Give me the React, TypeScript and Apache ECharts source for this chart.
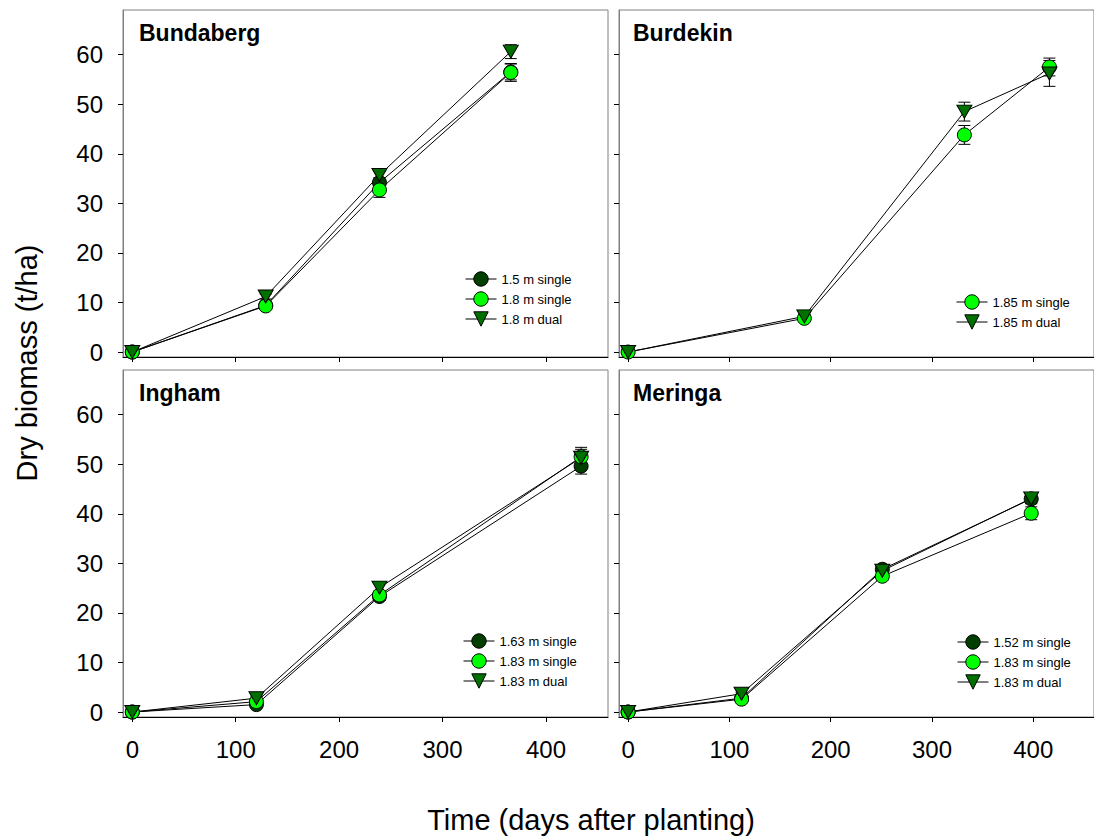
import React, { useEffect, useRef } from "react";
import * as echarts from "echarts";

// ---- Data ----
const xTicks = [0, 100, 200, 300, 400];
const yTicks = [0, 10, 20, 30, 40, 50, 60];

const bundDays = [0, 129, 239, 366];
const bund15Single = [0, 9.4, 34.2, 56.5];
const bund15SingleErr = [0, 0.5, 1.0, 1.6];
const bund18Single = [0, 9.3, 32.7, 56.4];
const bund18SingleErr = [0, 0.5, 1.5, 1.8];
const bund18Dual = [0, 11.2, 35.7, 60.6];
const bund18DualErr = [0, 0.5, 1.0, 1.4];

const burdDays = [0, 174, 332, 416];
const burd185Single = [0, 6.8, 43.8, 57.5];
const burd185SingleErr = [0, 0.4, 1.9, 1.8];
const burd185Dual = [0, 7.2, 48.5, 56.2];
const burd185DualErr = [0, 0.4, 1.9, 2.6];

const ingDays = [0, 120, 239, 434];
const ing163Single = [0, 1.5, 23.3, 49.6];
const ing163SingleErr = [0, 0.4, 0.8, 1.6];
const ing183Single = [0, 2.1, 23.6, 51.5];
const ing183SingleErr = [0, 0.4, 0.8, 1.5];
const ing183Dual = [0, 2.8, 25.1, 51.3];
const ing183DualErr = [0, 0.4, 0.8, 2.1];

const merDays = [0, 112, 251, 398];
const mer152Single = [0, 2.8, 28.8, 43.0];
const mer152SingleErr = [0, 0.3, 0.7, 1.0];
const mer183Single = [0, 2.6, 27.4, 40.1];
const mer183SingleErr = [0, 0.3, 0.8, 1.3];
const mer183Dual = [0, 3.7, 28.5, 43.1];
const mer183DualErr = [0, 0.3, 0.7, 1.0];

const panelTitles = ["Bundaberg", "Burdekin", "Ingham", "Meringa"];

const DARK = "#003f00";
const LIGHT = "#00ff00";
const MID = "#007000";
const FONT = "Liberation Sans, Arial, sans-serif";

type S = { name: string; days: number[]; vals: number[]; errs: number[]; kind: "dark" | "light" | "dual" };

const panels: S[][] = [
  [
    { name: "1.5 m single", days: bundDays, vals: bund15Single, errs: bund15SingleErr, kind: "dark" },
    { name: "1.8 m single", days: bundDays, vals: bund18Single, errs: bund18SingleErr, kind: "light" },
    { name: "1.8 m dual", days: bundDays, vals: bund18Dual, errs: bund18DualErr, kind: "dual" },
  ],
  [
    { name: "1.85 m single", days: burdDays, vals: burd185Single, errs: burd185SingleErr, kind: "light" },
    { name: "1.85 m dual", days: burdDays, vals: burd185Dual, errs: burd185DualErr, kind: "dual" },
  ],
  [
    { name: "1.63 m single", days: ingDays, vals: ing163Single, errs: ing163SingleErr, kind: "dark" },
    { name: "1.83 m single", days: ingDays, vals: ing183Single, errs: ing183SingleErr, kind: "light" },
    { name: "1.83 m dual", days: ingDays, vals: ing183Dual, errs: ing183DualErr, kind: "dual" },
  ],
  [
    { name: "1.52 m single", days: merDays, vals: mer152Single, errs: mer152SingleErr, kind: "dark" },
    { name: "1.83 m single", days: merDays, vals: mer183Single, errs: mer183SingleErr, kind: "light" },
    { name: "1.83 m dual", days: merDays, vals: mer183Dual, errs: mer183DualErr, kind: "dual" },
  ],
];

const gridPos = [
  { left: 123, top: 10 },
  { left: 619, top: 10 },
  { left: 123, top: 370 },
  { left: 619, top: 370 },
];
const titlePos = [
  { left: 139, top: 21 },
  { left: 633, top: 21 },
  { left: 139, top: 381 },
  { left: 633, top: 381 },
];
const legendPos = [
  { left: 465, top: 270 },
  { left: 956, top: 293 },
  { left: 463, top: 632 },
  { left: 957, top: 633 },
];

export default function App() {
  const ref = useRef<HTMLDivElement>(null);
  useEffect(() => {
    if (!ref.current) return;
    const chart = echarts.init(ref.current, null, { renderer: "svg" });

    const series: any[] = [];
    panels.forEach((panel, pi) => {
      // error bars first (behind)
      panel.forEach((s) => {
        const data = s.days
          .map((d, i) => [d, s.vals[i] - s.errs[i], s.vals[i] + s.errs[i]])
          .filter((_, i) => s.errs[i] > 0);
        series.push({
          type: "custom",
          xAxisIndex: pi,
          yAxisIndex: pi,
          z: 1,
          silent: true,
          encode: { x: 0, y: [1, 2] },
          data,
          renderItem: (params: any, api: any) => {
            const x = api.value(0);
            const lo = api.coord([x, api.value(1)]);
            const hi = api.coord([x, api.value(2)]);
            const w = 6;
            const st = { stroke: "#000", lineWidth: 1 };
            return {
              type: "group",
              children: [
                { type: "line", shape: { x1: lo[0], y1: lo[1], x2: hi[0], y2: hi[1] }, style: st },
                { type: "line", shape: { x1: lo[0] - w, y1: lo[1], x2: lo[0] + w, y2: lo[1] }, style: st },
                { type: "line", shape: { x1: hi[0] - w, y1: hi[1], x2: hi[0] + w, y2: hi[1] }, style: st },
              ],
            };
          },
        });
      });
      panel.forEach((s) => {
        const color = s.kind === "dark" ? DARK : s.kind === "light" ? LIGHT : MID;
        series.push({
          type: "line",
          name: s.name,
          xAxisIndex: pi,
          yAxisIndex: pi,
          z: 3,
          clip: false,
          data: s.days.map((d, i) => [d, s.vals[i]]),
          symbol: s.kind === "dual" ? "triangle" : "circle",
          symbolRotate: s.kind === "dual" ? 180 : 0,
          symbolSize: s.kind === "dual" ? [15, 13] : 14,
          lineStyle: { color: "#000", width: 1 },
          itemStyle: { color, borderColor: "#000", borderWidth: 1 },
          emphasis: { disabled: true },
        });
      });
    });

    const option: any = {
      animation: false,
      grid: gridPos.map((g) => ({
        left: g.left,
        top: g.top,
        width: 485,
        height: 347,
        show: true,
        borderColor: "#808080",
        borderWidth: 1,
        backgroundColor: "transparent",
      })),
      xAxis: gridPos.map((_, i) => ({
        type: "value",
        gridIndex: i,
        min: -9,
        max: 460,
        splitLine: { show: false },
        axisLine: { show: true, onZero: false, lineStyle: { color: "#000", width: 1 } },
        axisTick: { show: true, length: 5, customValues: xTicks, lineStyle: { color: "#000" } },
        axisLabel: {
          show: i >= 2,
          customValues: xTicks,
          margin: 20,
          fontSize: 24,
          color: "#000",
          fontFamily: FONT,
        },
      })),
      yAxis: gridPos.map((_, i) => ({
        type: "value",
        gridIndex: i,
        min: -1,
        max: 69,
        splitLine: { show: false },
        axisLine: { show: true, onZero: false, lineStyle: { color: "#808080", width: 1 } },
        axisTick: { show: true, length: 5, customValues: yTicks, lineStyle: { color: "#000" } },
        axisLabel: {
          show: i % 2 === 0,
          customValues: yTicks,
          margin: 20,
          fontSize: 24,
          color: "#000",
          fontFamily: FONT,
        },
      })),
      title: panelTitles.map((t, i) => ({
        text: t,
        left: titlePos[i].left,
        top: titlePos[i].top,
        padding: 0,
        textStyle: { fontSize: 23, fontWeight: "bold", color: "#000", fontFamily: FONT },
      })),
      legend: panels.map((panel, i) => ({
        data: panel.map((s) => s.name),
        orient: "vertical",
        left: legendPos[i].left,
        top: legendPos[i].top,
        padding: 0,
        itemWidth: 31,
        itemHeight: 18,
        itemGap: 2,
        selectedMode: false,
        textStyle: { fontSize: 13, color: "#000", fontFamily: FONT, lineHeight: 18, height: 18 },
        itemStyle: { borderColor: "#000", borderWidth: 1 },
        lineStyle: { color: "#000", width: 1 },
      })),
      graphic: [
        {
          type: "text",
          x: 27,
          y: 363,
          rotation: Math.PI / 2,
          style: {
            text: "Dry biomass (t/ha)",
            font: `29px ${FONT}`,
            fill: "#000",
            align: "center",
            verticalAlign: "middle",
          },
        },
        {
          type: "text",
          x: 591,
          y: 820,
          style: {
            text: "Time (days after planting)",
            font: `29px ${FONT}`,
            fill: "#000",
            align: "center",
            verticalAlign: "middle",
          },
        },
      ],
      series,
    };
    chart.setOption(option);
    return () => chart.dispose();
  }, []);

  return (
    <div
      ref={ref}
      style={{ position: "absolute", left: 0, top: 0, width: 1094, height: 836, background: "#fff" }}
    />
  );
}
